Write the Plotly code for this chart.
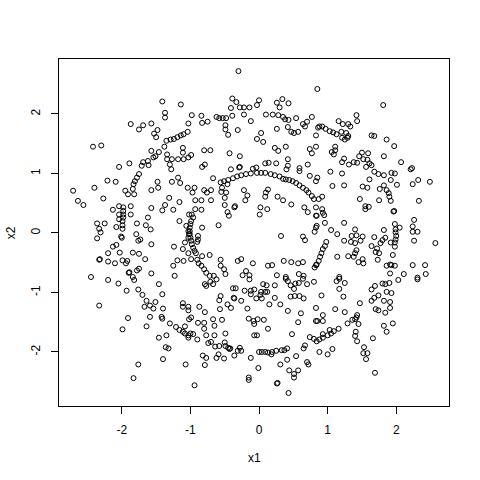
"""Scatter of x1 vs x2 in R base-graphics style (open circles, boxed axes)."""

import plotly.graph_objects as go

# (x1, x2) pairs, grouped by the area of the plot they sit in
upper_left = [
    (-1.41, 2.21), (-1.14, 2.16), (-1.37, 2.02), (-1.37, 1.94), (-1.87, 1.83), (-1.75, 1.74),
    (-1.69, 1.81), (-1.57, 1.84), (-1.48, 1.73), (-1.53, 1.67), (-1.50, 1.61), (-1.03, 1.84),
    (-1.04, 1.70), (-1.10, 1.66), (-1.14, 1.64), (-1.19, 1.61), (-1.24, 1.58), (-1.29, 1.57),
    (-1.35, 1.55), (-2.42, 1.45), (-2.30, 1.47), (-1.11, 1.43), (-1.11, 1.35), (-1.03, 1.27),
    (-1.38, 1.45), (-1.57, 1.38), (-1.46, 1.36), (-1.51, 1.29), (-1.54, 1.27), (-1.34, 1.32),
    (-1.27, 1.24), (-1.34, 1.24), (-1.18, 1.24), (-1.10, 1.24), (-1.69, 1.19), (-1.62, 1.21),
    (-1.61, 1.14), (-1.71, 1.13), (-2.04, 1.11), (-1.89, 1.17), (-1.30, 1.15),
]

upper_mid = [
    (-0.30, 2.72), (0.85, 2.42), (-0.39, 2.26), (-0.33, 2.20), (-0.41, 2.10), (-0.28, 2.11),
    (-0.22, 2.11), (-0.14, 2.11), (0.00, 2.23), (-0.03, 2.15), (0.26, 2.19), (0.34, 2.25),
    (0.43, 2.18), (0.30, 2.11), (-0.98, 1.98), (-0.84, 1.97), (-0.83, 1.85), (-0.75, 1.87),
    (-0.62, 1.95), (-0.58, 1.93), (-0.53, 1.93), (-0.48, 1.93), (-0.39, 1.97), (-0.22, 1.99),
    (-0.12, 1.88), (0.10, 1.99), (0.20, 1.99), (0.28, 1.98), (0.35, 1.95), (0.38, 1.91),
    (0.43, 1.90), (0.54, 1.93), (0.64, 1.83), (0.67, 1.79), (0.70, 1.87), (0.77, 1.95),
    (0.86, 1.77), (0.83, 1.64), (-0.49, 1.81), (-0.49, 1.74), (-0.45, 1.65), (-0.31, 1.73),
    (0.03, 1.68), (-0.03, 1.58), (0.06, 1.53), (0.26, 1.75), (0.42, 1.78), (0.47, 1.70),
    (0.51, 1.68), (0.57, 1.70), (-0.80, 1.39), (-0.71, 1.39), (-0.43, 1.34), (-0.28, 1.29),
    (-0.99, 1.31), (0.23, 1.43), (0.28, 1.38), (0.39, 1.45), (0.74, 1.41), (0.77, 1.34),
    (0.83, 1.45), (0.42, 1.24), (0.09, 1.17), (0.14, 1.18), (0.25, 1.17), (0.42, 1.13),
    (0.71, 1.15), (-0.79, 1.15), (-0.28, 1.11), (-0.04, 1.10), (0.59, 1.09), (-0.83, 1.11),
]

upper_right = [
    (1.81, 2.15), (1.42, 1.98), (1.43, 1.88), (1.16, 1.88), (1.22, 1.83), (1.30, 1.83),
    (1.33, 1.79), (0.88, 1.79), (0.92, 1.79), (0.97, 1.75), (1.03, 1.71), (1.08, 1.69),
    (1.13, 1.66), (1.20, 1.70), (1.27, 1.68), (1.30, 1.63), (1.21, 1.60), (1.25, 1.57),
    (1.29, 1.60), (1.64, 1.64), (1.68, 1.63), (1.86, 1.57), (1.97, 1.46), (1.11, 1.45),
    (1.11, 1.39), (1.06, 1.36), (1.09, 1.32), (1.50, 1.35), (1.46, 1.29), (1.59, 1.34),
    (1.52, 1.24), (1.58, 1.23), (1.61, 1.17), (1.64, 1.14), (1.43, 1.18), (1.38, 1.19),
    (1.31, 1.15), (1.24, 1.25), (1.21, 1.19), (1.82, 1.29), (2.07, 1.19), (2.23, 1.09),
    (1.56, 1.11),
]

mid_left = [
    (-1.28, 1.07), (-1.75, 0.99), (-1.78, 0.93), (-1.81, 0.87), (-1.83, 0.82), (-1.84, 0.74),
    (-2.21, 0.88), (-2.09, 0.86), (-2.40, 0.76), (-2.71, 0.71), (-1.95, 0.71), (-1.91, 0.65),
    (-1.82, 0.65), (-2.27, 0.58), (-2.64, 0.54), (-2.56, 0.47), (-1.48, 0.86), (-1.47, 0.76),
    (-1.57, 0.72), (-1.27, 0.86), (-1.18, 0.93), (-1.15, 0.84), (-1.04, 0.76), (-1.31, 0.59),
    (-1.16, 0.52), (-1.37, 0.47), (-1.41, 0.38), (-1.25, 0.39), (-1.57, 0.42), (-1.87, 0.45),
    (-1.87, 0.31), (-2.13, 0.39), (-2.04, 0.45), (-1.98, 0.43), (-1.98, 0.37), (-1.98, 0.31),
    (-1.98, 0.26), (-1.99, 0.20), (-1.99, 0.13), (-1.99, 0.07), (-2.04, 0.31), (-2.04, 0.23),
    (-2.00, -0.08), (-2.01, -0.06), (-2.08, 0.10), (-1.62, 0.26), (-1.78, 0.16), (-1.65, 0.13),
    (-1.58, 0.06), (-2.36, 0.16), (-2.25, 0.16), (-2.33, 0.07), (-2.31, 0.01), (-2.36, -0.09),
    (-1.79, -0.02), (-1.73, -0.11), (-1.76, -0.13), (-2.13, -0.23), (-2.08, -0.20), (-1.57, -0.19),
    (-2.20, -0.34), (-2.03, -0.33), (-1.84, -0.33), (-1.75, -0.35), (-1.66, -0.44), (-2.33, -0.45),
    (-2.32, -0.44), (-2.20, -0.48), (-2.10, -0.51), (-1.99, -0.46), (-1.94, -0.51), (-1.92, -0.47),
    (-1.75, -0.60), (-1.78, -0.63), (-1.90, -0.67), (-1.89, -0.66), (-1.57, -0.68), (-2.45, -0.74),
    (-1.84, -0.74), (-1.24, -0.23), (-1.11, -0.27), (-1.03, -0.34), (-1.19, -0.46), (-1.10, -0.47),
    (-1.25, -0.55), (-1.23, -0.72), (-1.06, 0.12), (-1.03, 0.03), (-1.02, -0.02), (-1.03, -0.08),
    (-1.16, 0.20), (-1.08, -0.16), (-1.02, 0.31),
]

centre = [
    (-0.41, 1.07), (-0.29, 1.10), (-0.09, 1.08), (0.03, 1.01), (0.09, 1.01), (-0.03, 1.01),
    (-0.12, 1.00), (-0.19, 0.99), (-0.26, 0.97), (-0.32, 0.95), (-0.38, 0.92), (-0.45, 0.89),
    (-0.51, 0.87), (-0.56, 0.85), (-0.67, 0.92), (-0.54, 0.76), (-0.46, 0.82), (-0.48, 0.68),
    (-0.50, 0.59), (-0.55, 0.69), (-0.94, 0.76), (-0.97, 0.68), (-0.80, 0.72), (-0.76, 0.68),
    (-0.70, 0.72), (-0.22, 0.72), (-0.17, 0.63), (-0.20, 0.55), (-0.93, 0.55), (-0.84, 0.55),
    (-0.70, 0.55), (0.17, 0.99), (0.23, 0.97), (0.30, 0.95), (0.35, 0.91), (0.39, 0.90),
    (0.44, 0.89), (0.49, 0.87), (0.54, 0.84), (0.59, 0.80), (0.64, 0.76), (0.69, 0.72),
    (0.72, 0.68), (0.77, 0.62), (0.80, 0.57), (0.40, 1.07), (0.59, 1.04), (0.74, 0.96),
    (0.83, 0.87), (0.13, 0.73), (0.10, 0.68), (0.09, 0.61), (0.27, 0.61), (0.35, 0.55),
    (0.47, 0.48), (-0.35, 0.45), (-0.36, 0.43), (-0.50, 0.47), (-0.46, 0.35), (-0.44, 0.29),
    (0.02, 0.43), (0.12, 0.40), (0.01, 0.31), (0.66, 0.43), (0.71, 0.35), (0.83, 0.43),
    (0.83, 0.29), (-0.93, 0.40), (-0.84, 0.39), (-0.98, 0.31), (-0.96, 0.26), (-0.99, 0.20),
    (-1.00, 0.15), (-1.01, 0.09), (-1.01, 0.03), (-1.01, -0.02), (-1.00, -0.08), (-0.99, -0.13),
    (-0.98, -0.19), (-0.96, -0.25), (-0.94, -0.30), (-0.92, -0.34), (-0.89, -0.05), (-0.89, -0.11),
    (-0.90, -0.15), (-0.83, 0.09), (-0.59, 0.13), (0.32, -0.05), (0.64, -0.06), (0.67, -0.12),
    (0.83, 0.09), (0.81, 0.02), (-0.83, -0.39), (-0.90, -0.45), (-0.88, -0.51), (-0.84, -0.55),
    (-0.80, -0.61), (-0.77, -0.67), (-0.72, -0.72), (-0.66, -0.72), (-0.72, -0.37), (-0.56, -0.45),
    (-0.56, -0.55), (-0.51, -0.61), (-0.49, -0.69), (-0.31, -0.47), (-0.26, -0.44), (-0.09, -0.51),
    (0.13, -0.55), (0.19, -0.54), (0.36, -0.47), (0.47, -0.49), (0.57, -0.51), (0.64, -0.49),
    (0.83, -0.54), (0.81, -0.58), (-0.19, -0.64), (-0.24, -0.71), (-0.14, -0.71), (0.26, -0.71),
    (0.39, -0.74), (0.58, -0.69), (0.65, -0.72), (-0.99, -0.44),
]

mid_right = [
    (0.85, 0.93), (1.04, 1.03), (1.21, 1.00), (1.68, 1.03), (1.74, 0.99), (1.82, 0.97),
    (1.93, 1.01), (1.98, 1.00), (2.21, 1.07), (1.61, 0.90), (1.92, 0.89), (2.01, 0.81),
    (1.07, 0.79), (1.24, 0.80), (1.51, 0.78), (1.58, 0.76), (1.76, 0.74), (1.82, 0.80),
    (1.86, 0.72), (1.89, 0.67), (1.90, 0.61), (1.92, 0.54), (1.75, 0.55), (2.24, 0.82),
    (2.32, 0.89), (2.49, 0.86), (0.87, 0.57), (0.92, 0.61), (1.47, 0.57), (2.33, 0.54),
    (1.55, 0.45), (1.55, 0.40), (1.60, 0.44), (0.92, 0.40), (0.93, 0.34), (0.84, 0.29),
    (0.95, 0.30), (1.97, 0.37), (1.96, 0.36), (0.96, 0.17), (1.24, 0.17), (0.84, 0.12),
    (1.05, 0.05), (1.14, -0.02), (1.40, 0.06), (1.98, 0.15), (1.99, 0.06), (1.99, 0.01),
    (2.00, -0.05), (1.99, -0.11), (1.98, -0.16), (1.98, -0.23), (2.05, 0.09), (1.82, 0.05),
    (2.26, 0.22), (2.24, 0.11), (2.24, 0.02), (2.31, 0.02), (1.35, -0.05), (1.42, -0.04),
    (1.51, -0.06), (1.24, -0.13), (1.34, -0.15), (1.40, -0.17), (1.48, -0.13), (1.68, -0.07),
    (1.84, -0.08), (1.80, -0.12), (1.77, -0.17), (1.92, -0.16), (1.64, -0.22), (1.72, -0.26),
    (2.26, -0.13), (2.57, -0.17), (0.98, -0.15), (0.96, -0.22), (0.93, -0.27), (0.91, -0.34),
    (0.89, -0.40), (0.87, -0.47), (0.84, -0.53), (1.42, -0.29), (1.14, -0.40), (1.30, -0.39),
    (1.38, -0.40), (1.40, -0.34), (1.51, -0.44), (1.52, -0.51), (1.45, -0.49), (1.70, -0.32),
    (1.75, -0.34), (1.73, -0.45), (1.95, -0.37), (1.91, -0.53), (1.93, -0.54), (1.86, -0.55),
    (1.98, -0.55), (2.24, -0.54), (2.42, -0.54), (1.91, -0.68), (2.11, -0.69), (2.31, -0.75),
    (2.43, -0.69), (1.17, -0.74),
]

lower_left = [
    (-2.20, -0.79), (-2.05, -0.85), (-1.82, -0.79), (-1.46, -0.86), (-1.76, -0.95), (-1.93, -0.97),
    (-1.70, -1.04), (-1.41, -1.03), (-2.33, -1.22), (-1.64, -1.14), (-1.67, -1.24), (-1.59, -1.22),
    (-1.54, -1.27), (-1.51, -1.16), (-1.40, -1.27), (-1.11, -1.18), (-1.11, -1.24), (-1.03, -1.24),
    (-1.03, -1.30), (-1.91, -1.43), (-1.59, -1.41), (-1.42, -1.41), (-1.41, -1.44), (-1.02, -1.45),
    (-1.99, -1.62), (-1.64, -1.57), (-1.30, -1.52), (-1.21, -1.58), (-1.16, -1.63), (-1.11, -1.66),
    (-1.08, -1.69), (-1.03, -1.72), (-1.03, -1.76), (-1.08, -1.57), (-1.46, -1.76), (-1.35, -1.72),
    (-1.36, -1.92), (-1.32, -1.94), (-1.40, -2.12), (-1.76, -2.21), (-1.07, -2.21), (-1.83, -2.44),
]

lower_mid = [
    (-0.62, -0.78), (-0.71, -0.82), (-0.79, -0.86), (-0.77, -0.89), (-0.67, -0.86), (-0.14, -0.78),
    (0.06, -0.86), (0.11, -0.88), (0.23, -0.88), (0.39, -0.77), (0.42, -0.81), (0.46, -0.88),
    (0.53, -0.85), (0.58, -0.84), (0.64, -0.77), (0.70, -0.86), (0.80, -0.82), (-0.38, -0.93),
    (-0.34, -0.93), (-0.21, -0.97), (-0.12, -0.97), (-0.12, -1.03), (-0.07, -0.95), (0.03, -0.99),
    (0.09, -0.99), (0.12, -0.99), (0.02, -1.04), (-0.04, -1.10), (0.04, -1.10), (0.23, -1.09),
    (0.51, -0.94), (0.52, -1.06), (0.59, -1.06), (0.65, -1.10), (0.46, -1.07), (-0.56, -1.06),
    (-0.58, -1.13), (-0.37, -1.09), (-0.36, -1.10), (-0.46, -1.20), (-0.41, -1.26), (-0.26, -1.14),
    (-0.17, -1.27), (0.15, -1.20), (0.31, -1.20), (-0.87, -1.24), (-0.79, -1.33), (-0.57, -1.28),
    (0.42, -1.31), (0.61, -1.35), (0.83, -1.26), (-0.99, -1.42), (-0.89, -1.51), (-0.80, -1.51),
    (-0.67, -1.45), (-0.54, -1.46), (-0.80, -1.61), (-0.65, -1.56), (-0.15, -1.44), (-0.08, -1.48),
    (-0.02, -1.45), (0.07, -1.46), (-0.07, -1.53), (0.13, -1.61), (0.57, -1.50), (0.83, -1.48),
    (-1.00, -1.69), (-0.96, -1.70), (-0.90, -1.79), (-0.77, -1.72), (-0.65, -1.72), (-0.49, -1.69),
    (-0.07, -1.72), (-0.03, -1.72), (0.48, -1.70), (0.74, -1.75), (0.80, -1.78), (-0.74, -1.85),
    (-0.70, -1.83), (-0.64, -1.91), (-0.58, -1.90), (-0.50, -1.84), (-0.49, -1.90), (-0.45, -1.93),
    (-0.42, -1.94), (-0.43, -1.95), (-0.28, -1.93), (-0.31, -1.98), (-0.36, -2.06), (-0.26, -1.98),
    (-0.59, -2.04), (-0.51, -2.11), (-0.62, -2.10), (-0.82, -2.06), (-0.77, -2.10), (-0.79, -2.22),
    (-0.12, -2.10), (0.00, -2.00), (0.04, -2.00), (0.09, -2.00), (0.13, -2.01), (0.19, -2.00),
    (0.25, -1.98), (0.33, -1.97), (0.37, -1.97), (0.41, -1.94), (0.18, -2.04), (0.65, -1.94),
    (0.67, -1.89), (0.54, -2.07), (0.41, -2.13), (0.31, -2.21), (0.70, -2.17), (0.72, -2.21),
    (-0.01, -2.27), (0.44, -2.31), (0.57, -2.31), (0.51, -2.37), (0.51, -2.43), (-0.15, -2.43),
    (-0.15, -2.47), (0.26, -2.53), (0.27, -2.52), (-0.94, -2.56), (0.43, -2.69),
]

lower_right = [
    (1.17, -0.77), (1.13, -0.81), (1.25, -0.84), (1.17, -0.94), (1.90, -0.84), (1.84, -0.86),
    (1.80, -0.85), (2.03, -0.79), (2.31, -0.78), (1.69, -0.89), (1.64, -0.95), (1.86, -0.99),
    (1.93, -1.01), (1.74, -1.05), (1.68, -1.09), (1.64, -1.14), (1.82, -1.14), (1.91, -1.16),
    (1.91, -1.26), (1.84, -1.34), (1.70, -1.28), (1.74, -1.30), (1.47, -1.18), (0.91, -1.05),
    (1.23, -1.07), (1.11, -1.28), (1.25, -1.33), (0.93, -1.38), (0.93, -1.48), (0.85, -1.48),
    (1.43, -1.38), (1.42, -1.42), (1.40, -1.45), (1.36, -1.46), (1.29, -1.52), (1.45, -1.53),
    (1.82, -1.56), (1.86, -1.66), (1.95, -1.52), (1.41, -1.66), (1.40, -1.73), (1.43, -1.82),
    (1.66, -1.77), (1.16, -1.61), (1.09, -1.65), (1.05, -1.69), (1.00, -1.72), (0.93, -1.76),
    (0.88, -1.79), (0.84, -1.82), (1.03, -1.63), (0.93, -1.70), (0.88, -2.00), (1.00, -2.04),
    (1.07, -1.95), (1.53, -1.92), (1.52, -2.02), (1.58, -2.02), (1.56, -2.12), (1.69, -2.35),
]

groups = [upper_left, upper_mid, upper_right, mid_left, centre, mid_right,
          lower_left, lower_mid, lower_right]
x1 = [p[0] for g in groups for p in g]
x2 = [p[1] for g in groups for p in g]

tick_vals = [-2, -1, 0, 1, 2]
tick_text = ["-2", "-1", "0", "1", "2"]

font = dict(family="Liberation Sans, Arial, sans-serif", size=12, color="black")

fig = go.Figure()
fig.add_trace(
    go.Scatter(
        x=x1,
        y=x2,
        mode="markers",
        marker=dict(symbol="circle-open", size=5, color="black", line=dict(width=1, color="black")),
        hoverinfo="skip",
    )
)

axis_common = dict(
    showgrid=False,
    zeroline=False,
    showline=True,
    linecolor="black",
    linewidth=1,
    mirror=True,
    ticks="outside",
    ticklen=7,
    tickwidth=1,
    tickcolor="black",
    tickvals=tick_vals,
    ticktext=tick_text,
    tickfont=font,
    ticklabelstandoff=6,
)

fig.update_xaxes(range=[-2.916, 2.769], **axis_common)
fig.update_yaxes(range=[-2.908, 2.924], tickangle=-90, **axis_common)

fig.update_layout(
    width=480,
    height=480,
    margin=dict(l=59, r=31, t=59, b=74),
    plot_bgcolor="white",
    paper_bgcolor="white",
    showlegend=False,
    font=font,
    annotations=[
        dict(text="x1", x=0.5, y=-0.15, xref="paper", yref="paper",
             showarrow=False, xanchor="center", yanchor="middle", font=font),
        dict(text="x2", x=-0.124, y=0.5, xref="paper", yref="paper", textangle=-90,
             showarrow=False, xanchor="center", yanchor="middle", font=font),
    ],
)

# drop the browser's default body margin so the figure sits at the page corner
fig.write_html(
    "out.html",
    config={"displayModeBar": False, "staticPlot": True},
    post_script="document.body.style.margin = '0';",
)
